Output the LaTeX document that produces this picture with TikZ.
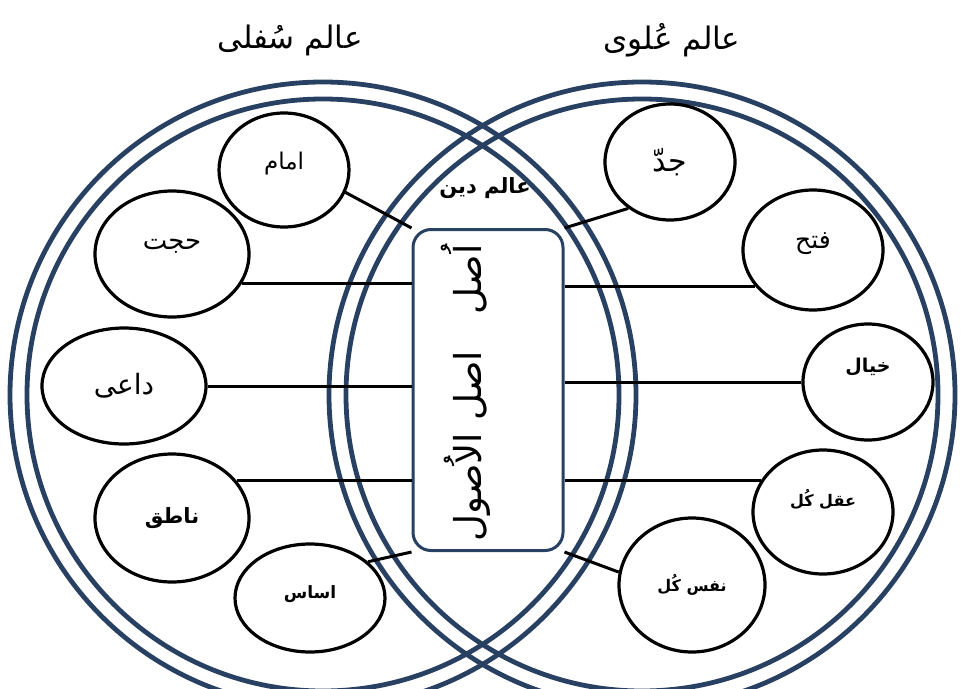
\documentclass[tikz,border=0pt]{standalone}
\usepackage{fontspec}
\newfontfamily\arabicfont[Script=Arabic]{DejaVu Sans}
\TeXXeTstate=1
\usetikzlibrary{shapes.geometric}
\definecolor{ringblue}{RGB}{40,64,98}
\newcommand{\urdu}[1]{\arabicfont\beginR #1\endR}

\begin{document}
\begin{tikzpicture}[x=1pt,y=-1pt,
  ring/.style={draw=ringblue,line width=4.8pt},
  hadd/.style={ellipse,draw,fill=white,line width=3.2pt,inner sep=0pt,font=\fontsize{23}{27}\selectfont},
  link/.style={line width=3pt}]
\useasboundingbox (0,0) rectangle (963,688);
% two worlds, double rings
\draw[ring] (323,395) circle[radius=313pt]; \draw[ring] (323,395) circle[radius=296pt];
\draw[ring] (642,395) circle[radius=313pt]; \draw[ring] (642,395) circle[radius=296pt];
\node[font=\fontsize{31}{36}\selectfont] (sufli) at (290,40) {\urdu{عالم سُفلی}};
\node[font=\fontsize{31}{36}\selectfont] (ulwi) at (672,40) {\urdu{عالم عُلوی}};
\node[font=\fontsize{21}{25}\selectfont\bfseries] (din) at (485,188) {\urdu{عالم دین}};
% centre
\node[draw=ringblue,fill=white,line width=3pt,rounded corners=18pt,minimum width=150pt,minimum height=321pt] (box) at (488,390) {};
\node[rotate=90,font=\fontsize{37}{42}\selectfont] (asl) at (466,393) {\urdu{اُصل\quad اصل الاُصول}};
% lower world
\node[hadd,minimum width=130pt,minimum height=114pt,text depth=18pt] (imam) at (284,170) {\urdu{امام}};
\node[hadd,minimum width=154pt,minimum height=126pt,text depth=20pt,font=\fontsize{26}{30}\selectfont] (hujjat) at (172,254) {\urdu{حجت}};
\node[hadd,minimum width=164pt,minimum height=116pt,font=\fontsize{28}{32}\selectfont] (dai) at (124,386) {\urdu{داعی}};
\node[hadd,minimum width=154pt,minimum height=128pt,font=\fontsize{21}{25}\selectfont\bfseries] (natiq) at (172,518) {\urdu{ناطق}};
\node[hadd,minimum width=150pt,minimum height=108pt,text depth=12pt,font=\fontsize{17}{21}\selectfont\bfseries] (asas) at (310,598) {\urdu{اساس}};
% upper world
\node[hadd,minimum width=130pt,minimum height=116pt,font=\fontsize{30}{34}\selectfont] (jadd) at (670,162) {\urdu{جدّ}};
\node[hadd,minimum width=140pt,minimum height=120pt,text depth=18pt,font=\fontsize{25}{29}\selectfont] (fath) at (813,250) {\urdu{فتح}};
\node[hadd,minimum width=130pt,minimum height=116pt,text depth=34pt,font=\fontsize{19}{23}\selectfont\bfseries] (khayal) at (868,382) {\urdu{خیال}};
\node[hadd,minimum width=140pt,minimum height=124pt,text depth=28pt,font=\fontsize{16}{20}\selectfont\bfseries] (aql) at (823,512) {\urdu{عقل کُل}};
\node[hadd,minimum width=146pt,minimum height=134pt,font=\fontsize{16}{20}\selectfont\bfseries] (nafs) at (692,585) {\urdu{نفس کُل}};
% links
\draw[link] (imam.-20) -- (box.north west);
\draw[link] (hujjat.-23) -- (hujjat.-23 -| box.west);
\draw[link] (dai.east) -- (dai.east -| box.west);
\draw[link] (natiq.30) -- (natiq.30 -| box.west);
\draw[link] (asas.32) -- (box.south west);
\draw[link] (jadd.-132) -- (box.north east);
\draw[link] (fath.-148) -- (fath.-148 -| box.east);
\draw[link] (khayal.west) -- (khayal.west -| box.east);
\draw[link] (aql.153) -- (aql.153 -| box.east);
\draw[link] (nafs.170) -- (box.south east);
\end{tikzpicture}
\end{document}
